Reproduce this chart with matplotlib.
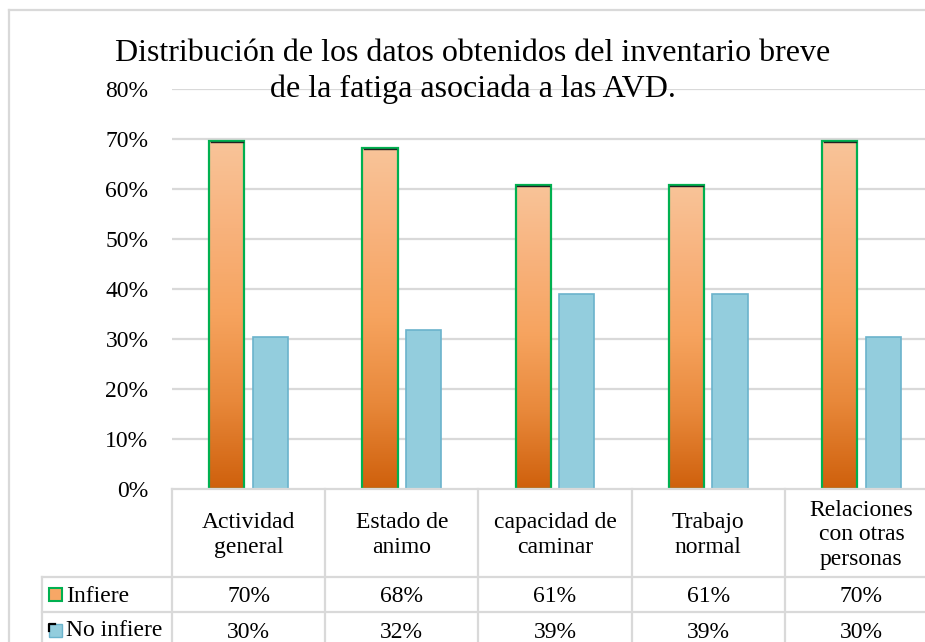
import matplotlib
matplotlib.use("Agg")
import matplotlib.pyplot as plt
import numpy as np
from matplotlib.colors import LinearSegmentedColormap
from matplotlib.lines import Line2D
from matplotlib.patches import Rectangle
from matplotlib.transforms import blended_transform_factory

# datos (porcentajes)
categorias = ["Actividad\ngeneral", "Estado de\nanimo", "capacidad de\ncaminar",
              "Trabajo\nnormal", "Relaciones\ncon otras\npersonas"]
infiere = [69.6, 68.2, 60.9, 60.9, 69.6]
no_infiere = [30.4, 31.8, 39.1, 39.1, 30.4]
series = ["Infiere", "No infiere"]
yticks = [0, 10, 20, 30, 40, 50, 60, 70, 80]
titulo1 = "Distribución de los datos obtenidos del inventario breve"
titulo2 = "de la fatiga asociada a las AVD."

plt.rcParams['font.family'] = ['Liberation Serif', 'DejaVu Serif']

W, H = 925, 642
fig = plt.figure(figsize=(W / 100, H / 100), dpi=100)

def fx(px):
    return px / W

def fy(py):
    return 1 - py / H

GRID = "#D9D9D9"
FS = 17
# area de trazado: x 172..938 px, y 89..489 px
ax = fig.add_axes([fx(172), fy(489), (938 - 172) / W, 400 / H])
ax.set_yticks(yticks)
ax.set_yticklabels([f"{t}%" for t in yticks])
ax.set_xticks([])
ax.tick_params(axis="y", length=0, labelsize=FS, pad=17)
for s in ax.spines.values():
    s.set_visible(False)
for t in yticks[1:]:
    ax.axhline(t, color=GRID, lw=1.6, zorder=0)

x = np.arange(len(categorias))
w = 0.23
off = 0.142

naranja = LinearSegmentedColormap.from_list(
    "nar", ["#CF600C", "#E8883A", "#F6A35E", "#F8B27C", "#F9C499"])
grad = np.linspace(0, 1, 256).reshape(-1, 1)

bars_o = ax.bar(x - off, infiere, w, facecolor="none", edgecolor="#00B050",
                lw=1.6, zorder=3)
for p in bars_o:
    x0, y0 = p.get_x(), p.get_y()
    ax.imshow(grad, cmap=naranja, origin="lower", aspect="auto",
              extent=(x0, x0 + p.get_width(), y0, y0 + p.get_height()), zorder=2)
    ax.plot([x0 + 0.01, x0 + p.get_width() - 0.01], [p.get_height() - 0.25] * 2,
            color="#222222", lw=1.0, zorder=4)
ax.bar(x + off, no_infiere, w, color="#93CDDD", edgecolor="#6BB3CC", lw=1.2, zorder=3)
ax.set_xlim(-0.5, len(categorias) - 0.5)
ax.set_ylim(0, 80)

# tabla de datos bajo el grafico
tr = blended_transform_factory(ax.transData, fig.transFigure)
y_top, y_r1, y_r2, y_bot = 489, 577, 612, 660
xmax = len(categorias) - 0.5
fig.add_artist(Line2D([fx(172), fx(938)], [fy(y_top)] * 2, color=GRID, lw=1.6))
for yy in (y_r1, y_r2):
    fig.add_artist(Line2D([fx(42), fx(938)], [fy(yy)] * 2, color=GRID, lw=1.6))
fig.add_artist(Line2D([fx(42), fx(42)], [fy(y_r1), fy(y_bot)], color=GRID, lw=1.6))
for b in np.arange(-0.5, xmax + 0.01, 1.0):
    fig.add_artist(Line2D([b, b], [fy(y_top), fy(y_bot)], color=GRID, lw=1.6,
                          transform=tr))

for i, c in enumerate(categorias):
    fig.text(x[i], fy(535), c, transform=tr, ha="center",
             va="center", fontsize=FS, linespacing=1.2)
    fig.text(x[i], fy(597), f"{round(infiere[i])}%", transform=tr,
             ha="center", va="center", fontsize=FS)
    fig.text(x[i], fy(632), f"{round(no_infiere[i])}%", transform=tr,
             ha="center", va="center", fontsize=FS)

# claves de leyenda en la tabla
fig.add_artist(Rectangle((fx(49), fy(601)), 13 / W, 13 / H, transform=fig.transFigure,
                         facecolor="#F7A766", edgecolor="#00B050", lw=1.5))
fig.text(fx(66), fy(596), series[0], ha="left", va="center", fontsize=FS)
fig.add_artist(Rectangle((fx(49), fy(637)), 13 / W, 13 / H, transform=fig.transFigure,
                         facecolor="#93CDDD", edgecolor="#6BB3CC", lw=1.0))
fig.add_artist(Line2D([fx(49), fx(49), fx(55)], [fy(631), fy(624), fy(624)],
                      color="black", lw=1.6))
fig.text(fx(66), fy(631), series[1], ha="left", va="center", fontsize=FS)

# borde exterior del grafico
fig.add_artist(Line2D([fx(9), fx(9)], [fy(10), 0], color=GRID, lw=1.6))
fig.add_artist(Line2D([fx(9), 1], [fy(10)] * 2, color=GRID, lw=1.6))

# titulo
fig.text(fx(473), fy(61), titulo1, ha="center", va="baseline", fontsize=23)
fig.text(fx(473), fy(97), titulo2, ha="center", va="baseline", fontsize=23)

fig.savefig("out.png", dpi=100)
